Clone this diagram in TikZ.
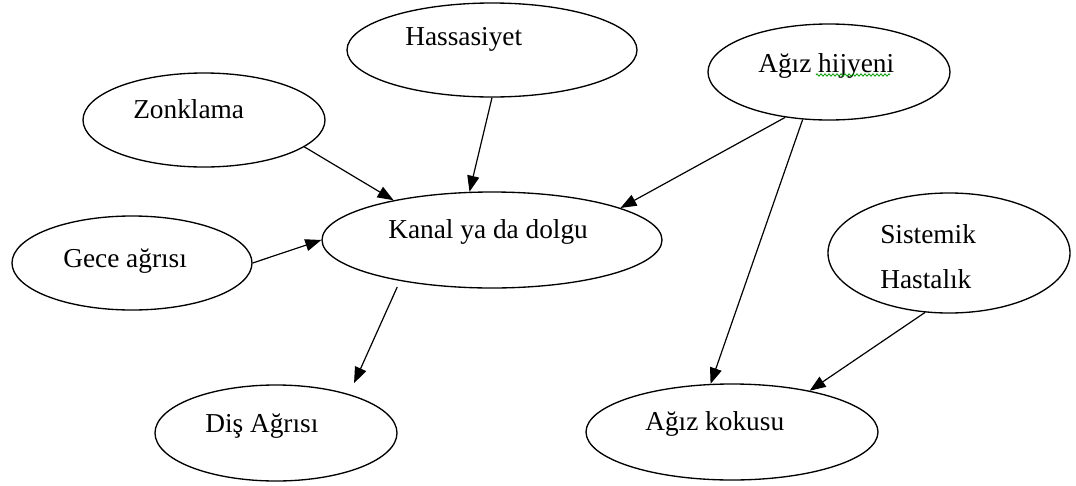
\documentclass[tikz,border=0pt]{standalone}
\usepackage{fontspec}
\setmainfont{Liberation Serif}
\usetikzlibrary{shapes.geometric,arrows.meta,decorations.pathmorphing}
\begin{document}
\begin{tikzpicture}[x=0.75pt,y=-0.75pt,
  bub/.style={ellipse,draw,line width=1pt,inner sep=0pt},
  lbl/.style={anchor=base west,inner sep=0pt,font=\fontsize{20.5pt}{24pt}\selectfont},
  link/.style={line width=0.9pt,-{Triangle[length=12pt,width=9pt]}},
  squiggle/.style={draw=green!60!black,line width=0.6pt,decorate,
    decoration={zigzag,amplitude=0.9pt,segment length=3pt}}]
\useasboundingbox (0,0) rectangle (1076,486);

% bubbles
\node[bub,minimum width={290*0.75pt},minimum height={94*0.75pt}] (hass) at (492,50) {};
\node[bub,minimum width={242*0.75pt},minimum height={94*0.75pt}] (zonk) at (204,120) {};
\node[bub,minimum width={242*0.75pt},minimum height={96*0.75pt}] (hij) at (829,72) {};
\node[bub,minimum width={340*0.75pt},minimum height={96*0.75pt}] (kanal) at (492,240) {};
\node[bub,minimum width={240*0.75pt},minimum height={94*0.75pt}] (gece) at (132,263) {};
\node[bub,minimum width={242*0.75pt},minimum height={120*0.75pt}] (sist) at (949,253) {};
\node[bub,minimum width={242*0.75pt},minimum height={96*0.75pt}] (dis) at (276,433) {};
\node[bub,minimum width={292*0.75pt},minimum height={96*0.75pt}] (koku) at (732,432) {};

% labels
\node[lbl] (hass-t) at (405,45) {Hassasiyet};
\node[lbl] (zonk-t) at (133,118) {Zonklama};
\node[lbl] (hij-t) at (758,72) {Ağız hijyeni};
\node[lbl] (kanal-t) at (388,238) {Kanal ya da dolgu};
\node[lbl] (gece-t) at (63,267) {Gece ağrısı};
\node[lbl] (sist-t1) at (880,243) {Sistemik};
\node[lbl] (sist-t2) at (880,288) {Hastalık};
\node[lbl] (dis-t) at (205,432) {Diş Ağrısı};
\node[lbl] (koku-t) at (645,430) {Ağız kokusu};

% spelling underline
\draw[squiggle] (816,75) -- (890,75);

% connectors
\draw[link] (zonk.-15) -- (kanal.158);
\draw[link] (hass.-90) -- (kanal.115);
\draw[link] (hij.-134) -- (kanal.14);
\draw[link] (gece.0) -- (kanal.180);
\draw[link] (hij.-119) -- (koku.114);
\draw[link,shorten <=5pt,shorten >=9pt] (kanal.-156) -- (dis.28);
\draw[link] (sist.-112) -- (koku.28);
\end{tikzpicture}
\end{document}
